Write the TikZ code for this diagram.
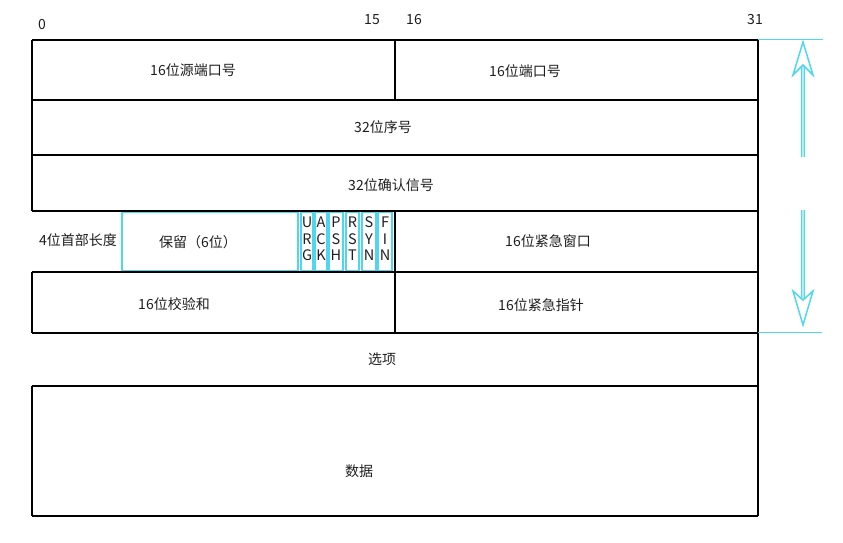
\documentclass[tikz,border=0pt]{standalone}
\usepackage{fontspec}
\setmainfont{Noto Sans CJK SC}
\definecolor{mycyan}{RGB}{80,214,238}
\definecolor{txt}{RGB}{30,30,30}
\begin{document}
\begin{tikzpicture}[x=1pt,y=-1pt,
  grid/.style={line width=1.7pt,black},
  cbox/.style={draw=mycyan,line width=1.5pt},
  lbl/.style={inner sep=0pt,text=txt,font=\fontsize{14}{16}\selectfont},
  flag/.style={inner sep=0pt,text=txt,align=center,font=\fontsize{14.5}{16.5}\selectfont},
  guide/.style={draw=mycyan,line width=1pt},
  shaft/.style={draw=mycyan,line width=1.1pt,double=mycyan!45,double distance=1.6pt},
  head/.style={draw=mycyan,line width=1.5pt,fill=white,line join=miter}]
\useasboundingbox (0,0) rectangle (843,543);
% header numbers
\node[lbl] (b0) at (42,25) {0};
\node[lbl] (b15) at (372,20) {15};
\node[lbl] (b16) at (414,20) {16};
\node[lbl] (b31) at (755,20) {31};
% grid lines
\draw[grid] (32,40) -- (758,40);
\foreach \yy in {100,155,211,272,333,386,516} \draw[grid] (32,\yy) -- (758,\yy);
\draw[grid] (32,40) -- (32,211);
\draw[grid] (32,272) -- (32,333);
\draw[grid] (32,386) -- (32,516);
\draw[grid] (758,40) -- (758,516);
\draw[grid] (395,40) -- (395,100);
\draw[grid] (395,211) -- (395,333);
% cyan boxes
\draw[cbox] (122,212.5) rectangle (298,270.5);
\foreach \xa/\xb in {301/313,315/327,329/343,346/359,362/376,378/392}
  \draw[cbox] (\xa,212.5) rectangle (\xb,270.5);
% labels
\node[lbl] (srcport) at (193,70) {16位源端口号};
\node[lbl] (dstport) at (525,71) {16位端口号};
\node[lbl] (seq) at (383,127) {32位序号};
\node[lbl] (ack) at (391,185) {32位确认信号};
\node[lbl] (hlen) at (78,240) {4位首部长度};
\node[lbl] (resv) at (198,242) {保留（6位）};
\node[flag] (furg) at (307,239) {U\\R\\G};
\node[flag] (fack) at (321,239) {A\\C\\K};
\node[flag] (fpsh) at (336,239) {P\\S\\H};
\node[flag] (frst) at (352.5,239) {R\\S\\T};
\node[flag] (fsyn) at (369,239) {S\\Y\\N};
\node[flag] (ffin) at (385,239) {F\\I\\N};
\node[lbl] (win) at (548,241) {16位紧急窗口};
\node[lbl] (csum) at (174,304) {16位校验和};
\node[lbl] (urg) at (541,305) {16位紧急指针};
\node[lbl] (opt) at (382,359) {选项};
\node[lbl] (data) at (359,471) {数据};
% right-hand guides and arrows
\draw[guide] (758,40) -- (823,40);
\draw[guide] (758,332) -- (822,332);
\coordinate (upbot) at (803,157);
\coordinate (upnotch) at (803,65);
\coordinate (uptip) at (803,42);
\coordinate (dntop) at (803,210);
\coordinate (dnnotch) at (803,300);
\coordinate (dntip) at (803,325);
\draw[shaft] (upbot) -- (upnotch);
\draw[head] (uptip) -- (813,75) -- (upnotch) -- (793,75) -- cycle;
\draw[shaft] (dntop) -- (dnnotch);
\draw[head] (dntip) -- (813,291) -- (dnnotch) -- (793,291) -- cycle;
\end{tikzpicture}
\end{document}
